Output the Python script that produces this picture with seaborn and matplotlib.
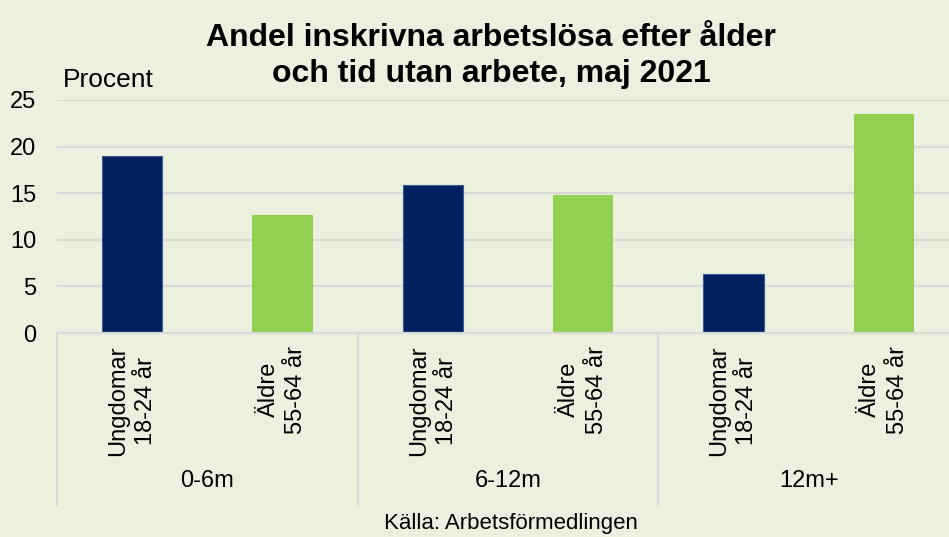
import matplotlib
matplotlib.use('Agg')
import matplotlib.pyplot as plt
import seaborn as sns
import pandas as pd
from matplotlib.transforms import blended_transform_factory

# ---- data ----
periods = ['0-6m', '6-12m', '12m+']
age_groups = ['Ungdomar\n18-24 år', 'Äldre\n55-64 år']
young = [19.0, 15.9, 6.3]
older = [12.7, 14.8, 23.5]
yticks = [0, 5, 10, 15, 20, 25]
title = 'Andel inskrivna arbetslösa efter ålder\noch tid utan arbete, maj 2021'
ylabel = 'Procent'
source = 'Källa: Arbetsförmedlingen'

rows = []
for i, p in enumerate(periods):
    rows.append(dict(slot=f'{p}|0', period=p, age=age_groups[0], value=young[i]))
    rows.append(dict(slot=f'{p}|1', period=p, age=age_groups[1], value=older[i]))
df = pd.DataFrame(rows)

sns.set_theme(style='white')
plt.rcParams['font.family'] = ['Liberation Sans', 'DejaVu Sans']

bg = '#EBF1DE'
navy = '#002060'
green = '#92D050'
grid_c = '#D9D9D9'

W, H = 949, 537
fig = plt.figure(figsize=(W / 100, H / 100), dpi=100, facecolor=bg)
ax = fig.add_axes([57 / W, (H - 333) / H, 902 / W, 233 / H])
ax.set_facecolor(bg)

sns.barplot(data=df, x='slot', y='value', hue='age', hue_order=age_groups,
            palette=[navy, green], dodge=False, width=0.4, ax=ax,
            legend=False, zorder=3, saturation=1)
for patch in ax.patches:
    fc = patch.get_facecolor()
    if fc[2] > 0.3 and fc[1] < 0.3:
        patch.set_edgecolor('#3B5A96')
        patch.set_linewidth(0.8)
    else:
        patch.set_linewidth(0)

ax.set_xlim(-0.5, len(df) - 0.5)
ax.set_ylim(0, 25)
ax.set_yticks(yticks)
ax.set_yticklabels([str(t) for t in yticks], fontsize=17, color='black')
ax.tick_params(axis='y', length=0, pad=15)
ax.set_xticks(range(len(df)))
ax.set_xticklabels(list(df['age']), rotation=90, fontsize=17, color='black')
for lab in ax.get_xticklabels():
    lab.set_multialignment('center')
    lab.set_linespacing(1.35)
ax.tick_params(axis='x', length=0, pad=9)
ax.set_xlabel('')
ax.set_ylabel('')
ax.yaxis.grid(True, color=grid_c, lw=1.6, zorder=0)
ax.set_axisbelow(True)
for s in ['top', 'right', 'left']:
    ax.spines[s].set_visible(False)
ax.spines['bottom'].set_color(grid_c)
ax.spines['bottom'].set_linewidth(1.6)
ax.spines['bottom'].set_zorder(4)

# group separators and group labels
trans = blended_transform_factory(ax.transData, ax.transAxes)
sep_bottom = -(505 - 333) / 233
for k in range(len(periods) + 1):
    xs = k * 2 - 0.5
    ax.plot([xs, xs], [0, sep_bottom], transform=trans, color=grid_c, lw=1.6,
            clip_on=False)
for i, p in enumerate(periods):
    ax.text(i * 2 + 0.5, -(481 - 333) / 233, p, transform=trans, ha='center',
            va='center', fontsize=17, color='black')

fig.text(491 / W, 1 - 82 / H, title, ha='center', va='baseline', fontsize=23,
         fontweight='bold', color='black', linespacing=1.25)
fig.text(63 / W, 1 - 80 / H, ylabel, ha='left', va='center', fontsize=19,
         color='black')
fig.text(511 / W, 1 - 524 / H, source, ha='center', va='center', fontsize=16,
         color='black')

fig.savefig('out.png', dpi=100, facecolor=bg)
